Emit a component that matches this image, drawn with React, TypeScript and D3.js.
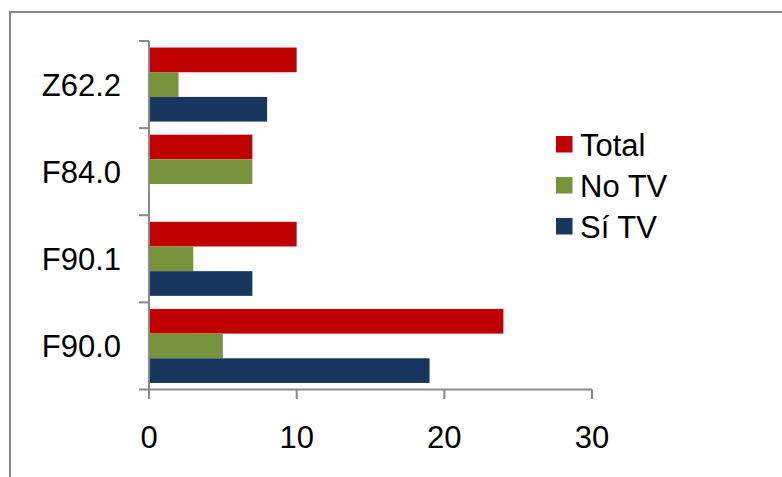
import React from "react";
import * as d3 from "d3";

// Diagnostic codes, top to bottom
const categories = ["Z62.2", "F84.0", "F90.1", "F90.0"];
const seriesNames = ["Total", "No TV", "Sí TV"];
const totalValues = [10, 7, 10, 24];
const noTvValues = [2, 7, 3, 5];
const siTvValues = [8, 0, 7, 19];
const xTicks = [0, 10, 20, 30];
const seriesColors = ["#C00000", "#77933C", "#17375E"];

const W = 782;
const H = 477;
const AXIS = "#898989";
const FONT = "'Liberation Sans', Arial, sans-serif";
const FS = 31;

export default function App() {
  const x = d3.scaleLinear().domain([0, 30]).range([149, 592]);
  const y = d3.scaleBand<string>().domain(categories).range([41, 389.5]).padding(0);
  const bw = y.bandwidth();
  const gap = bw * 0.075;
  const inner = d3.scaleBand<string>().domain(seriesNames).range([gap, bw - gap]).padding(0);

  const valuesBySeries = [totalValues, noTvValues, siTvValues];
  const rows = categories.map((c, i) => ({
    cat: c,
    vals: seriesNames.map((s, k) => ({ s, v: valuesBySeries[k][i], color: seriesColors[k] })),
  }));

  const boundaries = [...categories.map((c) => y(c)!), 389.5];
  const x0 = x(0);
  const yBottom = 389.5;

  return (
    <svg
      width={W}
      height={H}
      style={{ position: "absolute", left: 0, top: 0, background: "#fff" }}
      fontFamily={FONT}
    >
      {/* outer frame */}
      <rect x={10} y={12} width={820} height={520} fill="none" stroke="#888" strokeWidth={2} />

      {/* bars */}
      {rows.map((r) =>
        r.vals.map((d) => (
          <rect
            key={r.cat + d.s}
            x={x0 + 1}
            y={y(r.cat)! + inner(d.s)!}
            width={Math.max(0, x(d.v) - x0 - 1)}
            height={inner.bandwidth()}
            fill={d.color}
          />
        ))
      )}

      {/* y axis */}
      <line x1={x0} x2={x0} y1={41} y2={yBottom} stroke={AXIS} strokeWidth={2} />
      {boundaries.map((b, i) => (
        <line key={"yt" + i} x1={139} x2={x0} y1={b} y2={b} stroke={AXIS} strokeWidth={2} />
      ))}
      {categories.map((c) => (
        <text
          key={"yl" + c}
          x={121}
          y={y(c)! + bw / 2 + 11.5}
          textAnchor="end"
          fontSize={FS}
          fill="#000"
        >
          {c}
        </text>
      ))}

      {/* x axis */}
      <line x1={x0} x2={x(30)} y1={yBottom} y2={yBottom} stroke={AXIS} strokeWidth={2} />
      {xTicks.map((t) => (
        <g key={"xt" + t}>
          <line x1={x(t)} x2={x(t)} y1={yBottom} y2={399} stroke={AXIS} strokeWidth={2} />
          <text x={x(t)} y={448} textAnchor="middle" fontSize={FS} fill="#000">
            {t}
          </text>
        </g>
      ))}

      {/* legend */}
      {seriesNames.map((s, k) => {
        const base = 155.7 + k * 41;
        return (
          <g key={"lg" + s}>
            <rect x={556} y={base - 19.7} width={16.5} height={16.5} fill={seriesColors[k]} />
            <text x={580} y={base} fontSize={FS} fill="#000">
              {s}
            </text>
          </g>
        );
      })}
    </svg>
  );
}
